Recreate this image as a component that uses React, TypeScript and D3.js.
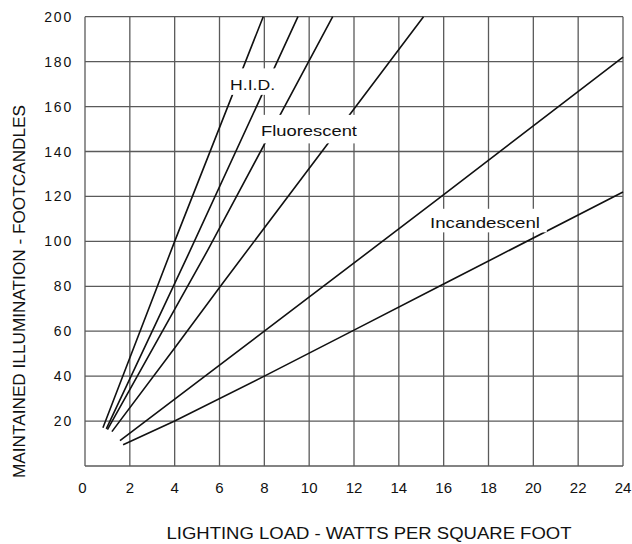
import React from "react";
import * as d3 from "d3";

const xTicks = [0, 2, 4, 6, 8, 10, 12, 14, 16, 18, 20, 22, 24];
const yTicks = [20, 40, 60, 80, 100, 120, 140, 160, 180, 200];

// H.I.D. family (two steepest) and fluorescent family, incandescent family
const hidA: [number, number][] = [[0.8, 17], [4, 100], [7.95, 200]];
const hidB: [number, number][] = [[0.95, 16.5], [4.6, 94], [9.5, 200]];
const fluorC: [number, number][] = [[1.0, 16.2], [5.5, 96.5], [11.05, 200]];
const fluorD: [number, number][] = [[1.2, 15.3], [4, 52.5], [6, 79.5], [15.1, 200]];
const incE: [number, number][] = [[1.56, 11.3], [8, 60], [15.9, 120], [24, 182]];
const incF: [number, number][] = [[1.7, 9.5], [4, 20], [8, 40], [12, 60.5], [16, 81], [24, 122]];

const series = [hidA, hidB, fluorC, fluorD, incE, incF];

const labels = [
  { text: "H.I.D.", x: 6.47, y: 167.5, len: 45, box: [6.42, 8.6, 165.2, 177] },
  { text: "Fluorescent", x: 7.85, y: 146.7, len: 96, box: [7.82, 12.2, 143.6, 156.3] },
  { text: "Incandescenl", x: 15.39, y: 105.9, len: 110, box: [15.3, 20.6, 104, 114.5] },
];

const W = 632;
const H = 544;
const left = 85;
const right = 623;
const top = 16.7;
const bottom = 466;

export default function App() {
  const x = d3.scaleLinear().domain([0, 24]).range([left, right]);
  const y = d3.scaleLinear().domain([0, 200]).range([bottom, top]);
  const line = d3
    .line<[number, number]>()
    .x((d) => x(d[0]))
    .y((d) => y(d[1]));
  const font = "'Liberation Sans', Arial, Helvetica, sans-serif";
  const gridColor = "#5a5a5a";

  return (
    <svg
      width={W}
      height={H}
      style={{ position: "absolute", left: 0, top: 0, background: "#fff" }}
      fontFamily={font}
    >
      <rect x={0} y={0} width={W} height={H} fill="#fff" />
      {/* grid */}
      {xTicks.map((t) => (
        <line key={"vx" + t} x1={x(t)} x2={x(t)} y1={y(0)} y2={y(200)} stroke={gridColor} strokeWidth={1.3} />
      ))}
      {[0, ...yTicks].map((t) => (
        <line key={"hy" + t} x1={x(0)} x2={x(24)} y1={y(t)} y2={y(t)} stroke={gridColor} strokeWidth={1.3} />
      ))}
      {/* data lines */}
      {series.map((s, i) => (
        <path key={"s" + i} d={line(s) || ""} fill="none" stroke="#111" strokeWidth={1.6} />
      ))}
      {/* labels */}
      {labels.map((l) => (
        <g key={l.text}>
          <rect
            x={x(l.box[0])}
            y={y(l.box[3])}
            width={x(l.box[1]) - x(l.box[0])}
            height={y(l.box[2]) - y(l.box[3])}
            fill="#fff"
          />
          <text
            x={x(l.x)}
            y={y(l.y)}
            fontSize={15}
            textLength={l.len}
            lengthAdjust="spacingAndGlyphs"
            fill="#111"
          >
            {l.text}
          </text>
        </g>
      ))}
      {/* y tick labels */}
      {yTicks.map((t) => (
        <text
          key={"yl" + t}
          x={73}
          y={y(t)}
          dy="0.36em"
          textAnchor="end"
          fontSize={14}
          letterSpacing={1.8}
          fill="#111"
        >
          {t}
        </text>
      ))}
      {/* x tick labels */}
      {xTicks.map((t) => (
        <text
          key={"xl" + t}
          x={x(t) + (t === 0 ? -2.5 : 0)}
          y={493}
          textAnchor="middle"
          fontSize={15}
          fill="#111"
        >
          {t}
        </text>
      ))}
      {/* axis titles */}
      <text
        x={369}
        y={539}
        textAnchor="middle"
        fontSize={16}
        textLength={405}
        lengthAdjust="spacingAndGlyphs"
        fill="#111"
      >
        LIGHTING LOAD - WATTS PER SQUARE FOOT
      </text>
      <text
        transform={`translate(25, 291.5) rotate(-90)`}
        textAnchor="middle"
        fontSize={16}
        textLength={373}
        lengthAdjust="spacingAndGlyphs"
        fill="#111"
      >
        MAINTAINED ILLUMINATION - FOOTCANDLES
      </text>
    </svg>
  );
}
